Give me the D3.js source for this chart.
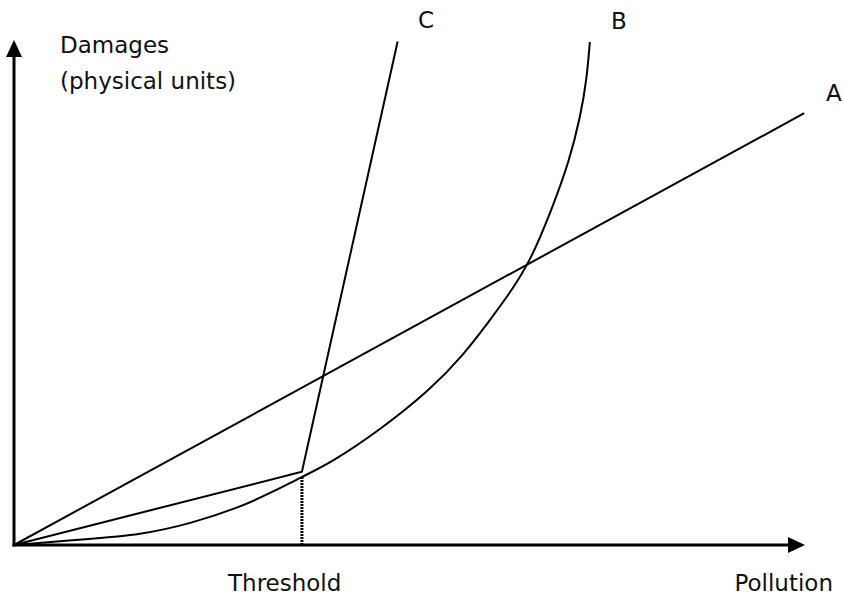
<!DOCTYPE html>
<html>
<head>
<meta charset="utf-8">
<script src="https://cdn.jsdelivr.net/npm/d3@7"></script>
<style>
  body { margin: 0; background: #fff; }
  text { font-family: 'DejaVu Sans', sans-serif; font-size: 23px; fill: #111; }
</style>
</head>
<body>
<div id="app"></div>
<script>
'use strict'

// curve A: straight line from the origin
const curveA = [[0, 0], [99.9, 85.5]]
// curve B: convex, turns almost vertical near the top
const curveB = [
  [0, 0], [9.6, 1.2], [15.9, 2.0], [22.3, 4.2], [28.6, 7.5], [32.7, 10.5],
  [36.4, 13.5], [40.0, 16.2], [46.3, 22.8], [52.6, 30.7], [56.8, 37.6],
  [60.2, 44.6], [62.5, 49.5], [65.2, 55.9], [68.0, 66.5], [70.2, 76.0],
  [71.6, 84.8], [72.4, 92.1], [72.8, 99.6]
]
// curve C: gentle up to the threshold, then steep
const curveC = [[0, 0], [36.4, 14.5], [48.5, 99.7]]
const threshold = 36.4
const thresholdDamage = 13.5

const width = 843
const height = 596

const x = d3.scaleLinear().domain([0, 100]).range([14, 805])
const y = d3.scaleLinear().domain([0, 100]).range([545, 40])

const svg = d3.select('#app').append('svg')
  .attr('width', width)
  .attr('height', height)

const line = d3.line().x(d => x(d[0])).y(d => y(d[1]))

// axes with no ticks, only the domain line
const xAxis = svg.append('g')
  .attr('transform', `translate(0,${y(0)})`)
  .call(d3.axisBottom(x).tickValues([]).tickSizeOuter(0))
xAxis.select('.domain')
  .attr('stroke', '#000').attr('stroke-width', 3)
  .attr('d', `M${x(0) - 1.5},0H${x(100) - 14}`)

const yAxis = svg.append('g')
  .attr('transform', `translate(${x(0)},0)`)
  .call(d3.axisLeft(y).tickValues([]).tickSizeOuter(0))
yAxis.select('.domain')
  .attr('stroke', '#000').attr('stroke-width', 3)
  .attr('d', `M0,${y(0) + 1.5}V${y(100) + 14}`)

// arrow heads
svg.append('path')
  .attr('d', `M${x(100)},${y(0)}L${x(100) - 17},${y(0) - 8}L${x(100) - 17},${y(0) + 8}Z`)
  .attr('fill', '#000')
svg.append('path')
  .attr('d', `M${x(0)},${y(100)}L${x(0) - 8},${y(100) + 17}L${x(0) + 8},${y(100) + 17}Z`)
  .attr('fill', '#000')

// threshold marker
svg.append('line')
  .attr('x1', x(threshold)).attr('x2', x(threshold))
  .attr('y1', y(0)).attr('y2', y(thresholdDamage))
  .attr('stroke', '#000').attr('stroke-width', 3)
  .attr('stroke-dasharray', '2,1')

svg.append('path').datum(curveA)
  .attr('d', line)
  .attr('fill', 'none').attr('stroke', '#000').attr('stroke-width', 2)

svg.append('path').datum(curveB)
  .attr('d', line.curve(d3.curveBasis))
  .attr('fill', 'none').attr('stroke', '#000').attr('stroke-width', 2)

line.curve(d3.curveLinear)
svg.append('path').datum(curveC)
  .attr('d', line)
  .attr('fill', 'none').attr('stroke', '#000').attr('stroke-width', 2)
  .attr('stroke-linejoin', 'miter')

// labels
svg.append('text').attr('x', 60).attr('y', 53).text('Damages')
svg.append('text').attr('x', 60).attr('y', 89).text('(physical units)')
svg.append('text').attr('x', 418).attr('y', 28).text('C')
svg.append('text').attr('x', 611).attr('y', 29).text('B')
svg.append('text').attr('x', 826).attr('y', 101).text('A')
svg.append('text').attr('x', 228).attr('y', 591).text('Threshold')
svg.append('text').attr('x', 833).attr('y', 591).attr('text-anchor', 'end').text('Pollution')
</script>
</body>
</html>
